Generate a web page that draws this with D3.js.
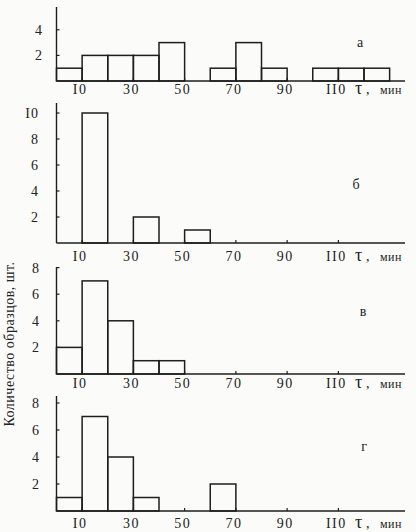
<!DOCTYPE html>
<html>
<head>
<meta charset="utf-8">
<script src="https://cdn.jsdelivr.net/npm/d3@7"></script>
<style>
  html, body { margin: 0; padding: 0; background: #fbfbf9; }
  svg { display: block; }
  text { font-family: "Liberation Serif", "DejaVu Serif", serif; fill: #222; }
</style>
</head>
<body>
<div id="chart"></div>
<script>
// Histogram bins (minutes), 10-minute wide
const binStarts = [0, 10, 20, 30, 40, 50, 60, 70, 80, 90, 100, 110, 120];
const binWidth = 10;

// Sample counts per bin for each panel
const countsA = [1, 2, 2, 2, 3, 0, 1, 3, 1, 0, 1, 1, 1];
const countsB = [0, 10, 0, 2, 0, 1, 0, 0, 0, 0, 0, 0, 0];
const countsV = [2, 7, 4, 1, 1, 0, 0, 0, 0, 0, 0, 0, 0];
const countsG = [1, 7, 4, 1, 0, 0, 2, 0, 0, 0, 0, 0, 0];

const panelLetters = ["а", "б", "в", "г"];

// Axis ticks and labels
const xTickValues = [10, 30, 50, 70, 90, 110];
const xTickLabels = ["I0", "30", "50", "70", "90", "II0"];
const yTicksA = [2, 4];
const yTicksB = [2, 4, 6, 8, 10];
const yTicksV = [2, 4, 6, 8];
const yTicksG = [2, 4, 6, 8];

const yAxisTitle = "Количество образцов, шт.";
const xUnit = "мин";

const width = 416, height = 532;

// layout of each panel: axis top, baseline, pixels per sample, label offset
const layout = [
  { top: 7,   base: 81,  unit: 12.8, letter: [360, 47],  ticks: yTicksA, counts: countsA, labelRight: 43, lab: 13 },
  { top: 103, base: 243, unit: 13.0, letter: [356, 189], ticks: yTicksB, counts: countsB, labelRight: 39, lab: 18 },
  { top: 267, base: 374, unit: 13.3, letter: [363, 316], ticks: yTicksV, counts: countsV, labelRight: 40, lab: 14 },
  { top: 396, base: 511, unit: 13.5, letter: [364, 451], ticks: yTicksG, counts: countsG, labelRight: 40, lab: 17 }
];

const svg = d3.select("#chart").append("svg")
  .attr("width", width)
  .attr("height", height);

const x = d3.scaleLinear().domain([0, 136]).range([56.5, 405]);

layout.forEach((p, i) => {
  const y = d3.scaleLinear().domain([0, 1]).range([p.base, p.base - p.unit]);
  const g = svg.append("g");

  // bars
  const bins = binStarts.map((s, k) => ({ x0: s, x1: s + binWidth, n: p.counts[k] }))
    .filter(d => d.n > 0);

  g.selectAll("rect")
    .data(bins)
    .join("rect")
    .attr("x", d => x(d.x0))
    .attr("y", d => y(d.n))
    .attr("width", d => x(d.x1) - x(d.x0))
    .attr("height", d => y(0) - y(d.n))
    .attr("fill", "none")
    .attr("stroke", "#1e1e1e")
    .attr("stroke-width", 1.5);

  // axes lines
  g.append("line")
    .attr("x1", x(0)).attr("x2", x(0))
    .attr("y1", p.top).attr("y2", p.base)
    .attr("stroke", "#1e1e1e").attr("stroke-width", 1.4);
  g.append("line")
    .attr("x1", x(0)).attr("x2", x.range()[1])
    .attr("y1", p.base).attr("y2", p.base)
    .attr("stroke", "#1e1e1e").attr("stroke-width", 1.4);

  // y ticks
  g.selectAll(".yt")
    .data(p.ticks)
    .join("line")
    .attr("x1", x(0)).attr("x2", x(0) + 3)
    .attr("y1", d => y(d)).attr("y2", d => y(d))
    .attr("stroke", "#1e1e1e").attr("stroke-width", 1.2);

  g.selectAll(".yl")
    .data(p.ticks)
    .join("text")
    .attr("x", p.labelRight)
    .attr("y", d => y(d))
    .attr("dy", "0.35em")
    .attr("text-anchor", "end")
    .style("font-size", "14px")
    .style("letter-spacing", "1px")
    .text(d => d === 10 ? "I0" : d);

  // x ticks
  g.selectAll(".xt")
    .data(xTickValues)
    .join("line")
    .attr("x1", d => x(d)).attr("x2", d => x(d))
    .attr("y1", p.base).attr("y2", p.base - 3)
    .attr("stroke", "#1e1e1e").attr("stroke-width", 1.2);

  g.selectAll(".xl")
    .data(xTickValues)
    .join("text")
    .attr("x", d => x(d) - 2)
    .attr("y", p.base + p.lab)
    .attr("text-anchor", "middle")
    .style("font-size", "14px")
    .style("letter-spacing", "1.5px")
    .text((d, k) => xTickLabels[k]);

  // tau, min
  g.append("text")
    .attr("x", 355)
    .attr("y", p.base + p.lab)
    .style("font-size", "18px")
    .text("τ");
  g.append("text")
    .attr("x", 366)
    .attr("y", p.base + p.lab)
    .style("font-size", "14px")
    .text(",");
  g.append("text")
    .attr("x", 380)
    .attr("y", p.base + p.lab)
    .style("font-size", "12px")
    .style("letter-spacing", "0.5px")
    .text(xUnit);

  // panel letter
  g.append("text")
    .attr("x", p.letter[0])
    .attr("y", p.letter[1])
    .attr("text-anchor", "middle")
    .style("font-size", "14px")
    .text(panelLetters[i]);
});

// shared y-axis title
svg.append("text")
  .attr("transform", "translate(14,344) rotate(-90)")
  .attr("text-anchor", "middle")
  .style("font-size", "14px")
  .style("letter-spacing", "0.5px")
  .text(yAxisTitle);
</script>
</body>
</html>
